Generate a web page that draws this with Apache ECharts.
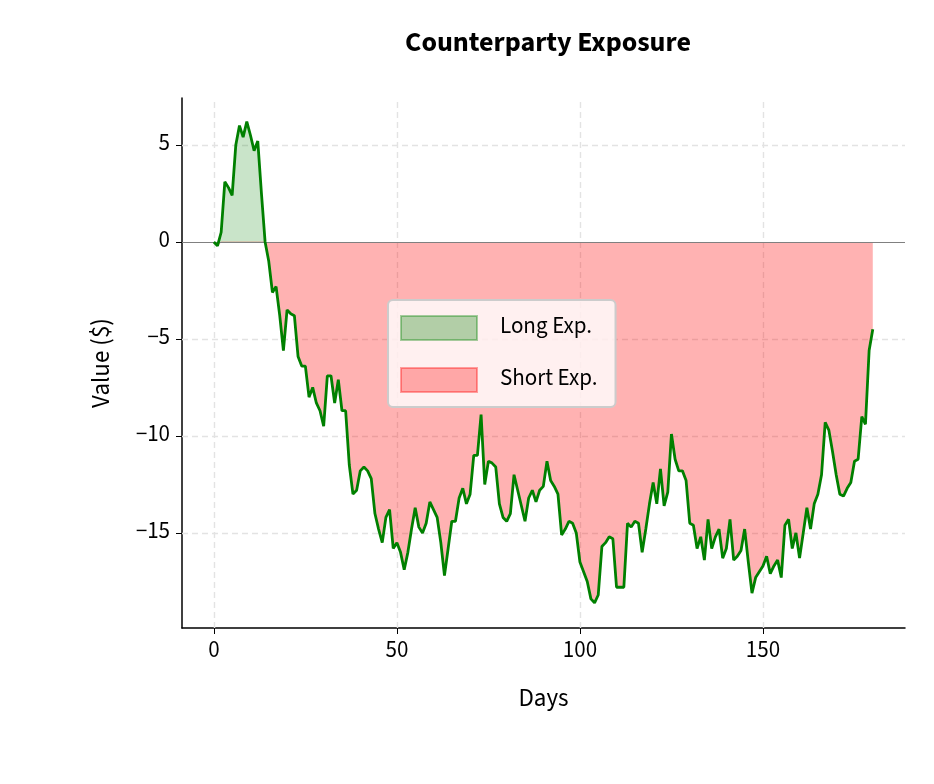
<!DOCTYPE html>
<html><head><meta charset="utf-8">
<script src="https://cdn.jsdelivr.net/npm/echarts@6/dist/echarts.min.js"></script>
<style>html,body{margin:0;padding:0;background:#fff}#c{width:934px;height:784px}</style>
</head><body><div id="c"></div>
<script>
const days = Array.from({length:181},(_,i)=>i);
const values = [0,-0.2,0.5,3.1,2.8,2.4,5.0,6.0,5.4,6.2,5.5,4.7,5.2,2.5,0.0,-1.0,-2.6,-2.3,-3.8,-5.6,
-3.5,-3.7,-3.8,-5.9,-6.4,-6.4,-8.0,-7.5,-8.3,-8.7,-9.5,-6.9,-6.9,-8.3,-7.1,-8.7,-8.7,-11.5,-13.0,-12.8,
-11.8,-11.6,-11.8,-12.2,-14.0,-14.8,-15.5,-14.2,-13.8,-15.8,-15.5,-16.0,-16.9,-16.0,-14.8,-13.7,-14.7,-15.0,-14.5,-13.4,
-13.8,-14.2,-15.5,-17.2,-15.8,-14.4,-14.4,-13.2,-12.7,-13.5,-13.0,-11.0,-11.0,-8.9,-12.5,-11.3,-11.4,-11.6,-13.5,-14.2,
-14.4,-14.0,-12.0,-12.8,-13.6,-14.4,-13.2,-12.8,-13.4,-12.8,-12.6,-11.3,-12.3,-12.6,-13.0,-15.1,-14.8,-14.4,-14.5,-15.0,
-16.5,-17.0,-17.5,-18.4,-18.6,-18.2,-15.7,-15.5,-15.2,-15.3,-17.8,-17.8,-17.8,-14.5,-14.7,-14.4,-14.5,-16.0,-14.8,-13.5,
-12.4,-13.5,-11.7,-13.6,-12.9,-9.9,-11.2,-11.8,-11.8,-12.3,-14.5,-14.6,-15.8,-15.2,-16.4,-14.3,-15.8,-15.2,-14.8,-16.3,
-15.8,-14.3,-16.4,-16.2,-15.9,-14.8,-16.5,-18.1,-17.3,-17.0,-16.7,-16.2,-17.1,-16.7,-16.4,-17.3,-14.6,-14.3,-15.8,-15.0,
-16.3,-15.0,-13.7,-14.8,-13.5,-13.0,-12.0,-9.3,-9.7,-10.8,-12.0,-13.0,-13.1,-12.7,-12.4,-11.3,-11.2,-9.0,-9.4,-5.6,-4.5];
const xTicks = [0,50,100,150];
const yTicks = [-15,-10,-5,0,5];

const F = '"Source Sans 3","Noto Sans",sans-serif';
const longData = days.map((d,i)=>[d, Math.max(values[i],0)]);
const shortData = days.map((d,i)=>[d, Math.min(values[i],0)]);
const lineData = days.map((d,i)=>[d, values[i]]);
const lab = v => String(v).replace('-','\u2212');
const gridStyle = {type:[6,4], color:'#e3e3e3', width:1.4};
const gridLines = xTicks.map(v=>({xAxis:v, lineStyle:gridStyle}))
  .concat(yTicks.filter(v=>v!==0).map(v=>({yAxis:v, lineStyle:gridStyle})));

const chart = echarts.init(document.getElementById('c'));
chart.setOption({
  animation:false,
  title:{text:'Counterparty Exposure', left:543, top:26, textAlign:'center',
    textStyle:{fontFamily:F, fontSize:28, fontWeight:'bold', color:'#000'}},
  grid:{left:182, right:29, top:98, bottom:156},
  legend:{orient:'vertical', left:388, top:300, itemWidth:76, itemHeight:24, itemGap:26,
    padding:[15,18,14,12], backgroundColor:'rgba(255,255,255,0.8)', borderColor:'#cccccc', borderWidth:2, borderRadius:5,
    textStyle:{fontFamily:F, fontSize:23, color:'#000', padding:[0,0,0,18]},
    data:[{name:'Long Exp.', icon:'rect', itemStyle:{color:'rgba(0,128,0,0.3)', borderColor:'rgba(0,128,0,0.35)', borderWidth:2}},
          {name:'Short Exp.', icon:'rect', itemStyle:{color:'rgba(255,0,0,0.3)', borderColor:'rgba(255,0,0,0.35)', borderWidth:2}}]},
  xAxis:{type:'value', min:-8.7, max:188.8, name:'Days', nameLocation:'middle', nameGap:60,
    nameTextStyle:{fontFamily:F, fontSize:25, color:'#000'},
    axisLine:{onZero:false, lineStyle:{color:'#000', width:1.5}},
    axisTick:{show:true, length:6, customValues:xTicks, lineStyle:{color:'#000'}},
    axisLabel:{fontFamily:F, fontSize:23, color:'#000', margin:12, customValues:xTicks, formatter:lab},
    splitLine:{show:false}},
  yAxis:{type:'value', min:-19.9, max:7.42, name:'Value ($)', nameLocation:'middle', nameGap:66, nameRotate:90,
    nameTextStyle:{fontFamily:F, fontSize:25, color:'#000'},
    axisLine:{show:true, onZero:false, lineStyle:{color:'#000', width:1.5}},
    axisTick:{show:true, length:6, customValues:yTicks, lineStyle:{color:'#000'}},
    axisLabel:{fontFamily:F, fontSize:23, color:'#000', margin:12, customValues:yTicks, formatter:lab},
    splitLine:{show:false}},
  series:[
    {name:'Long Exp.', type:'line', data:longData, showSymbol:false, lineStyle:{width:0},
     itemStyle:{color:'rgba(0,128,0,0.3)'}, areaStyle:{color:'rgba(0,128,0,0.3)', origin:0}},
    {name:'Short Exp.', type:'line', data:shortData, showSymbol:false, lineStyle:{width:1, color:'rgba(255,0,0,0.25)'},
     itemStyle:{color:'rgba(255,0,0,0.3)'}, areaStyle:{color:'rgba(255,0,0,0.3)', opacity:1, origin:0},
     markLine:{silent:true, symbol:'none', label:{show:false}, z:1, data:gridLines}},
    {name:'line', type:'line', data:lineData, showSymbol:false, lineStyle:{width:2.8, color:'#008000'}, z:5,
     markLine:{silent:true, symbol:'none', label:{show:false}, lineStyle:{color:'#808080', width:1.2, type:'solid'}, data:[{yAxis:0}]}}
  ]
});
</script></body></html>
